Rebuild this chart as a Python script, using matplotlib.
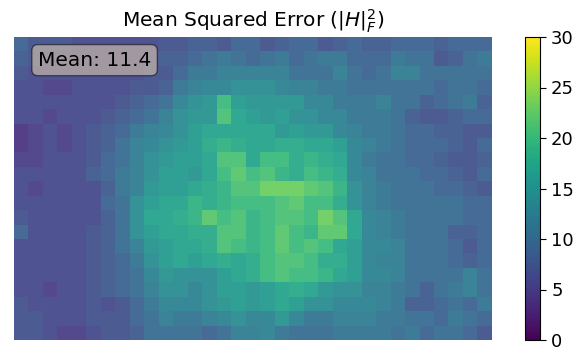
import numpy as np
import matplotlib
matplotlib.use("Agg")
import matplotlib.pyplot as plt

# valeurs (21 lignes x 33 colonnes)
mse_rows = [
    [9, 7, 7, 7, 6, 6, 6, 6, 6, 6, 7, 7, 8, 8, 7, 9, 9, 7, 8, 9, 9, 7, 8, 9, 8, 8, 9, 9, 9, 8, 9, 9, 9],
    [8, 7, 6, 6, 6, 6, 6, 6, 6, 7, 8, 8, 9, 10, 11, 10, 9, 10, 11, 9, 10, 11, 11, 9, 9, 9, 11, 10, 10, 7, 8, 10, 11],
    [7, 6, 6, 6, 6, 6, 6, 6, 6, 7, 7, 9, 11, 11, 12, 12, 12, 12, 12, 10, 10, 10, 12, 10, 9, 10, 12, 12, 10, 10, 10, 10, 10],
    [6, 6, 5, 5, 6, 6, 6, 6, 7, 7, 8, 11, 12, 13, 13, 14, 14, 14, 13, 12, 12, 11, 11, 10, 10, 10, 10, 10, 10, 9, 10, 10, 9],
    [6, 6, 6, 6, 6, 6, 6, 7, 8, 9, 10, 13, 14, 15, 20, 16, 15, 15, 15, 15, 13, 13, 11, 11, 11, 12, 10, 10, 8, 9, 10, 11, 8],
    [6, 6, 5, 6, 6, 6, 7, 8, 9, 10, 12, 14, 15, 15, 21, 17, 16, 15, 16, 14, 14, 13, 13, 11, 11, 11, 10, 8, 7, 7, 8, 9, 9],
    [4, 5, 6, 5, 6, 7, 8, 9, 11, 12, 13, 14, 16, 17, 17, 17, 17, 17, 15, 16, 15, 15, 13, 12, 11, 11, 10, 9, 9, 8, 8, 7, 7],
    [4, 5, 6, 5, 6, 7, 8, 10, 12, 13, 14, 15, 16, 18, 19, 18, 17, 17, 18, 18, 17, 17, 16, 13, 12, 11, 10, 9, 9, 9, 8, 7, 9],
    [5, 5, 6, 6, 6, 7, 9, 10, 12, 14, 15, 16, 16, 17, 21, 21, 17, 20, 20, 18, 19, 18, 17, 13, 11, 10, 10, 9, 9, 8, 7, 7, 8],
    [6, 6, 6, 6, 6, 8, 9, 11, 12, 14, 16, 16, 15, 17, 20, 22, 20, 21, 19, 18, 20, 19, 18, 13, 12, 10, 10, 10, 9, 9, 8, 7, 9],
    [6, 5, 6, 6, 6, 6, 8, 11, 12, 15, 16, 16, 17, 18, 19, 21, 21, 23, 23, 23, 22, 21, 19, 14, 12, 11, 10, 10, 10, 9, 9, 8, 7],
    [6, 6, 6, 6, 6, 6, 9, 10, 14, 16, 17, 17, 19, 18, 19, 20, 20, 20, 21, 22, 20, 20, 18, 14, 12, 11, 10, 10, 10, 10, 10, 9, 9],
    [7, 6, 6, 6, 6, 6, 8, 10, 14, 17, 17, 18, 19, 22, 20, 21, 19, 20, 21, 21, 20, 23, 21, 17, 13, 12, 11, 10, 10, 10, 10, 9, 9],
    [9, 6, 6, 6, 6, 7, 8, 10, 14, 16, 17, 17, 18, 18, 21, 21, 19, 20, 22, 20, 19, 22, 22, 17, 13, 12, 11, 10, 10, 10, 8, 8, 9],
    [6, 6, 6, 6, 6, 7, 8, 10, 12, 15, 16, 17, 17, 18, 21, 20, 19, 20, 22, 20, 21, 20, 17, 16, 13, 13, 12, 10, 10, 10, 9, 7, 9],
    [6, 6, 6, 6, 6, 7, 8, 9, 11, 14, 16, 17, 16, 17, 18, 17, 18, 20, 21, 21, 20, 18, 18, 16, 13, 12, 12, 10, 10, 10, 9, 8, 9],
    [6, 6, 6, 6, 6, 7, 8, 9, 10, 13, 15, 14, 14, 14, 16, 17, 18, 20, 21, 20, 20, 19, 17, 16, 13, 13, 12, 10, 10, 10, 10, 12, 10],
    [6, 6, 5, 6, 6, 7, 8, 9, 10, 12, 14, 14, 13, 14, 16, 16, 15, 16, 17, 18, 17, 15, 14, 14, 12, 12, 11, 10, 8, 10, 11, 12, 10],
    [7, 6, 6, 6, 6, 7, 6, 7, 9, 11, 13, 13, 13, 14, 15, 16, 15, 16, 17, 16, 14, 14, 13, 13, 13, 12, 11, 8, 8, 9, 10, 9, 11],
    [7, 7, 6, 6, 6, 7, 7, 7, 9, 10, 12, 11, 11, 12, 13, 14, 13, 13, 15, 13, 11, 11, 12, 12, 12, 11, 11, 10, 10, 9, 11, 10, 9],
    [7, 7, 6, 5, 5, 6, 7, 7, 8, 10, 10, 10, 10, 9, 10, 12, 12, 13, 11, 10, 10, 10, 11, 11, 11, 11, 10, 11, 9, 10, 10, 9, 7],
]
mean_value = 11.4
vmin, vmax = 0, 30
cbar_ticks = [0, 5, 10, 15, 20, 25, 30]

mse = np.array(mse_rows, dtype=float)

fig = plt.figure(figsize=(5.81, 3.51), dpi=100)
ax = fig.add_axes([14/581, 11/351, 478/581, 303/351])
cax = fig.add_axes([525/581, 11/351, 15/581, 303/351])

im = ax.imshow(mse, cmap='viridis', vmin=vmin, vmax=vmax, aspect='auto',
               interpolation='nearest', alpha=0.92)
ax.set_title(r'Mean Squared Error ($|H|_F^2$)', fontsize=14.5, pad=7)
ax.axis('off')

ax.text(0.05, 0.955, 'Mean: %.1f' % mean_value, transform=ax.transAxes,
        fontsize=14.5, va='top', ha='left',
        bbox=dict(boxstyle='round', facecolor='wheat', alpha=0.5))

cb = fig.colorbar(im, cax=cax, ticks=cbar_ticks)
cb.solids.set_alpha(1)
cb.ax.tick_params(labelsize=13, length=4.5)

fig.savefig('out.png', dpi=100)
